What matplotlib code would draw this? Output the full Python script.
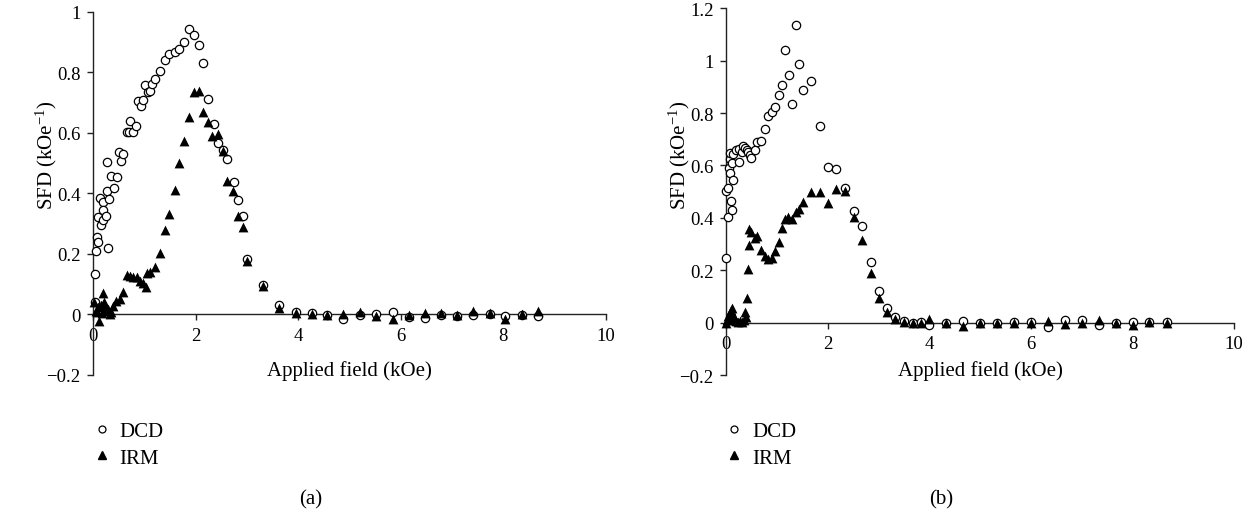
import matplotlib.pyplot as plt
from matplotlib.lines import Line2D
from matplotlib.ticker import FuncFormatter

plt.rcParams['font.family'] = ['Liberation Serif', 'DejaVu Serif']
plt.rcParams['mathtext.fontset'] = 'custom'
plt.rcParams['mathtext.rm'] = 'Liberation Serif'
plt.rcParams['mathtext.it'] = 'Liberation Serif:italic'

# panel (a)
dcd_a_x = [0.03, 0.04, 0.06, 0.08, 0.10, 0.10, 0.14, 0.15, 0.19, 0.20, 0.20, 0.25, 0.27, 0.27,
           0.30, 0.32, 0.36, 0.41, 0.46, 0.50, 0.55, 0.59, 0.66, 0.71, 0.73, 0.79, 0.84, 0.88,
           0.93, 0.97, 1.02, 1.07, 1.11, 1.16, 1.21, 1.31, 1.40, 1.49, 1.59, 1.68, 1.78, 1.87,
           1.97, 2.06, 2.15, 2.24, 2.35, 2.44, 2.54, 2.62, 2.74, 2.83, 2.92, 3.01, 3.32, 3.63,
           3.95, 4.26, 4.57, 4.88, 5.20, 5.52, 5.84, 6.16, 6.47, 6.78, 7.10, 7.41, 7.73, 8.04,
           8.36, 8.67]
dcd_a_y = [0.040, 0.133, 0.208, 0.255, 0.238, 0.321, 0.383, 0.295, 0.370, 0.343, 0.310, 0.326,
           0.407, 0.502, 0.219, 0.381, 0.458, 0.416, 0.455, 0.538, 0.508, 0.529, 0.604, 0.603,
           0.640, 0.602, 0.624, 0.706, 0.690, 0.709, 0.758, 0.734, 0.738, 0.761, 0.778, 0.805,
           0.840, 0.860, 0.866, 0.876, 0.900, 0.943, 0.924, 0.890, 0.830, 0.713, 0.628, 0.565,
           0.544, 0.512, 0.438, 0.377, 0.326, 0.183, 0.098, 0.031, 0.007, 0.003, -0.003, -0.016,
           -0.004, 0.002, 0.007, -0.010, -0.012, -0.002, -0.005, -0.001, 0.002, -0.005, -0.003,
           -0.005]
irm_a_x = [0.02, 0.05, 0.07, 0.10, 0.12, 0.15, 0.18, 0.20, 0.21, 0.23, 0.26, 0.30, 0.33, 0.36,
           0.40, 0.45, 0.53, 0.59, 0.66, 0.72, 0.79, 0.85, 0.92, 0.98, 1.03, 1.06, 1.12, 1.21,
           1.31, 1.40, 1.49, 1.59, 1.68, 1.78, 1.87, 1.96, 2.07, 2.15, 2.24, 2.33, 2.44, 2.53,
           2.62, 2.72, 2.82, 2.92, 3.01, 3.32, 3.63, 3.95, 4.26, 4.57, 4.88, 5.20, 5.52, 5.84,
           6.16, 6.47, 6.78, 7.10, 7.41, 7.73, 8.04, 8.36, 8.67]
irm_a_y = [0.040, 0.010, 0.007, 0.023, -0.021, 0.030, 0.005, 0.070, 0.040, 0.012, 0.025, 0.018,
           0.000, 0.007, 0.028, 0.045, 0.051, 0.073, 0.130, 0.128, 0.124, 0.122, 0.111, 0.102,
           0.089, 0.136, 0.141, 0.155, 0.202, 0.279, 0.332, 0.411, 0.500, 0.574, 0.651, 0.734,
           0.739, 0.668, 0.637, 0.590, 0.596, 0.540, 0.442, 0.409, 0.326, 0.288, 0.175, 0.093,
           0.020, 0.004, 0.000, -0.003, 0.002, 0.006, -0.007, -0.015, -0.002, 0.003, 0.003,
           -0.004, 0.010, 0.004, -0.015, 0.001, 0.010]

# panel (b)
dcd_b_x = [0.00, 0.01, 0.03, 0.03, 0.05, 0.07, 0.08, 0.08, 0.10, 0.11, 0.11, 0.13, 0.13, 0.20,
           0.26, 0.26, 0.31, 0.33, 0.37, 0.41, 0.44, 0.47, 0.49, 0.57, 0.62, 0.69, 0.77, 0.83,
           0.90, 0.96, 1.04, 1.10, 1.17, 1.24, 1.30, 1.37, 1.43, 1.51, 1.68, 1.85, 2.01, 2.17,
           2.34, 2.51, 2.68, 2.85, 3.01, 3.17, 3.33, 3.50, 3.67, 3.83, 4.00, 4.33, 4.67, 5.00,
           5.33, 5.67, 6.00, 6.33, 6.67, 7.00, 7.33, 7.67, 8.00, 8.33, 8.67]
dcd_b_y = [0.248, 0.503, 0.404, 0.515, 0.589, 0.625, 0.570, 0.649, 0.466, 0.430, 0.608, 0.545,
           0.643, 0.658, 0.663, 0.612, 0.653, 0.676, 0.665, 0.659, 0.651, 0.640, 0.628, 0.658,
           0.689, 0.692, 0.740, 0.787, 0.803, 0.825, 0.870, 0.906, 1.042, 0.944, 0.834, 1.135,
           0.987, 0.888, 0.924, 0.749, 0.596, 0.587, 0.513, 0.426, 0.369, 0.232, 0.120, 0.054,
           0.022, 0.005, 0.000, 0.003, -0.008, 0.000, 0.005, 0.000, 0.000, 0.001, 0.001, -0.015,
           0.009, 0.010, -0.010, 0.000, 0.002, 0.002, 0.001]
irm_b_x = [0.00, 0.02, 0.04, 0.06, 0.08, 0.10, 0.12, 0.14, 0.16, 0.18, 0.20, 0.24, 0.28, 0.32,
           0.35, 0.37, 0.39, 0.41, 0.43, 0.45, 0.46, 0.50, 0.57, 0.62, 0.69, 0.77, 0.83, 0.90,
           0.96, 1.04, 1.10, 1.17, 1.22, 1.30, 1.37, 1.44, 1.51, 1.68, 1.85, 2.01, 2.17, 2.34,
           2.51, 2.68, 2.85, 3.01, 3.17, 3.33, 3.50, 3.67, 3.83, 4.00, 4.33, 4.67, 5.00, 5.33,
           5.67, 6.00, 6.33, 6.67, 7.00, 7.33, 7.67, 8.00, 8.33, 8.67]
irm_b_y = [0.000, 0.010, 0.025, 0.015, 0.035, 0.050, 0.055, 0.030, 0.020, 0.010, 0.005, 0.003,
           0.005, 0.002, 0.010, 0.041, 0.020, 0.094, 0.204, 0.296, 0.356, 0.347, 0.324, 0.332,
           0.277, 0.255, 0.241, 0.245, 0.273, 0.309, 0.362, 0.395, 0.404, 0.395, 0.421, 0.432,
           0.459, 0.500, 0.500, 0.455, 0.510, 0.503, 0.404, 0.315, 0.188, 0.095, 0.041, 0.015,
           0.003, -0.001, 0.000, 0.015, 0.000, -0.013, 0.000, 0.000, 0.000, 0.000, 0.005,
           -0.004, 0.000, 0.010, 0.000, -0.010, 0.002, -0.003]

panels = [
    ("(a)", dcd_a_x, dcd_a_y, irm_a_x, irm_a_y, 1.0, [0.0742, 0.2633, 0.4094, 0.7116], 0.037, 0.0745, 0.248),
    ("(b)", dcd_b_x, dcd_b_y, irm_b_x, irm_b_y, 1.2, [0.5794, 0.2627, 0.4056, 0.7191], 0.542, 0.5795, 0.751),
]

fig = plt.figure(figsize=(12.53, 5.10), dpi=100)

for name, dx, dy, ix, iy, ytop, rect, ylab_x, leg_x, cap_x in panels:
    ax = fig.add_axes(rect)
    ax.scatter(dx, dy, s=36, marker='o', facecolors='white', edgecolors='black',
               linewidths=0.9, clip_on=False, zorder=3)
    ax.scatter(ix, iy, s=50, marker='^', color='black', linewidths=0,
               clip_on=False, zorder=4)

    ax.set_xlim(0, 10)
    ax.set_ylim(-0.2, ytop)
    ax.set_xticks(range(0, 11, 2))
    ax.set_yticks([v / 10 for v in range(-2, int(round(ytop * 10)) + 1, 2)])
    ax.yaxis.set_major_formatter(FuncFormatter(lambda v, p: ('%g' % round(v, 1)).replace('-', '\u2212')))

    ax.spines['top'].set_visible(False)
    ax.spines['right'].set_visible(False)
    ax.spines['bottom'].set_position(('data', 0))
    for sp in ['left', 'bottom']:
        ax.spines[sp].set_linewidth(1.0)
        ax.spines[sp].set_color('#222222')
    ax.tick_params(axis='both', direction='out', length=4, width=1.0, color='#222222',
                   labelsize=13.5)
    ax.tick_params(axis='x', pad=5)
    ax.tick_params(axis='y', pad=5)

    ax.set_xlabel("Applied field (kOe)", fontsize=15)
    ax.xaxis.set_label_coords(0.5, 0.04)

    fig.text(ylab_x, 0.695, "SFD (kOe$^{-1}$)", rotation=90, fontsize=15,
             ha='center', va='center')

    handles = [
        Line2D([], [], marker='o', linestyle='none', markerfacecolor='white',
               markeredgecolor='black', markeredgewidth=0.9, markersize=5),
        Line2D([], [], marker='^', linestyle='none', color='black', markersize=6),
    ]
    fig.legend(handles, ["DCD", "IRM"], loc='upper left', bbox_to_anchor=(leg_x, 0.172),
               frameon=False, fontsize=15, handlelength=0.8, handletextpad=0.45,
               labelspacing=0.35, borderaxespad=0, borderpad=0)

    fig.text(cap_x, 0.02, name, fontsize=15, ha='center', va='center')

fig.savefig("out.png", dpi=100)
